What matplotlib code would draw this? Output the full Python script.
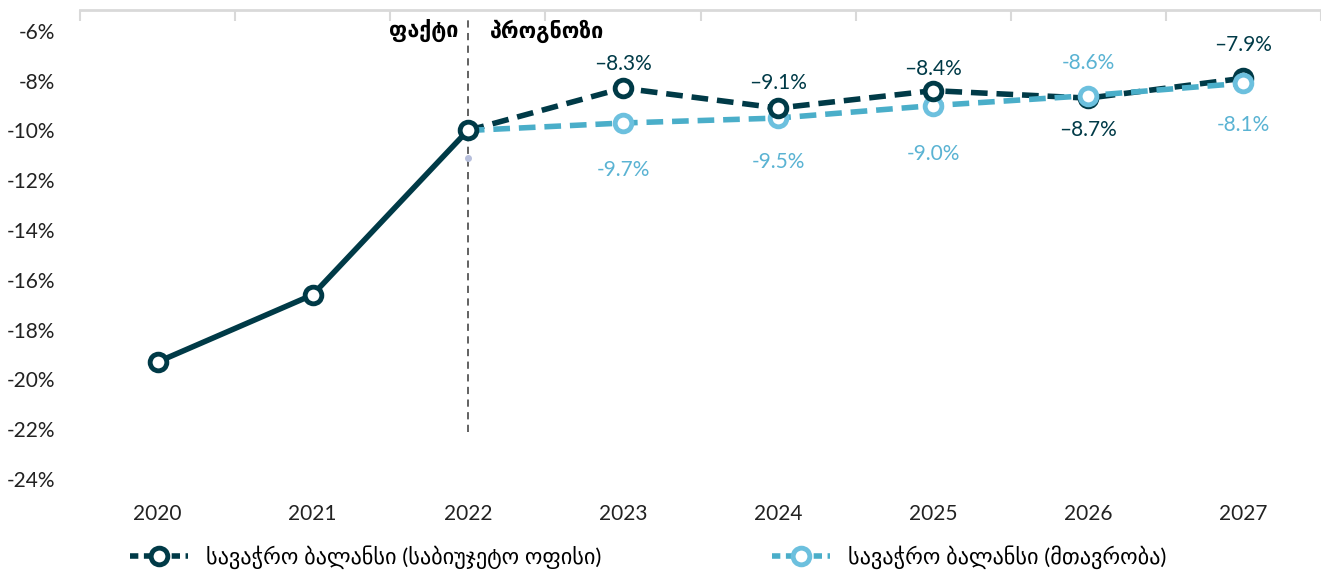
import numpy as np
import matplotlib.pyplot as plt

plt.rcParams['font.family'] = ['Lato', 'DejaVu Sans']

years = ['2020', '2021', '2022', '2023', '2024', '2025', '2026', '2027']
# budget office: fact 2020-2022, forecast 2022-2027
office = [-19.3, -16.6, -10.0, -8.3, -9.1, -8.4, -8.7, -7.9]
# government forecast from 2022
govt = [None, None, -10.0, -9.7, -9.5, -9.0, -8.6, -8.1]
stray_point = -11.1  # small marker at 2022
y_ticks = [-6, -8, -10, -12, -14, -16, -18, -20, -22, -24]

dark = '#003a47'
light_line = '#4aaec9'
light_mark = '#6cc0de'
light_text = '#5ab3d3'

x = np.arange(len(years))
fig = plt.figure(figsize=(13.21, 5.72), dpi=100)
ax = fig.add_axes([80 / 1321, 1 - 479 / 572, 1241 / 1321, 469 / 572])

# vertical separator fact / forecast
ax.plot([2, 2], [-22.1, -5.4], color='#555555', lw=1.3, ls=(0, (4, 3)), zorder=1)

gx = x[2:]
gy = govt[2:]
ax.plot(gx, gy, color=light_line, lw=4, ls=(0, (3, 1.6)), solid_capstyle='butt', zorder=3)
ax.plot(x[:3], office[:3], color=dark, lw=4, zorder=4)
ax.plot(x[2:], office[2:], color=dark, lw=4, ls=(0, (3, 1.6)), zorder=2)

ax.plot(x[:6], office[:6], ls='none', marker='o', ms=12, mfc='white', mec=dark, mew=3.5, zorder=5)
ax.plot(x[6:], office[6:], ls='none', marker='o', ms=12, mfc='white', mec=dark, mew=3.5, zorder=2.5)
ax.plot(gx[1:], gy[1:], ls='none', marker='o', ms=12, mfc='white', mec=light_mark, mew=3.5, zorder=4.5)
ax.plot([2], [stray_point], ls='none', marker='o', ms=4, color='#b7bfdc', zorder=2)

# value labels
lab = dict(ha='center', va='center', fontsize=15, textcoords='offset pixels')
above_dark = {3: 24, 4: 25, 5: 22, 7: 33}
for i, dy in above_dark.items():
    ax.annotate(f'–{abs(office[i]):.1f}%', (x[i], office[i]), xytext=(0, dy), color=dark, **lab)
ax.annotate(f'–{abs(office[6]):.1f}%', (x[6], office[6]), xytext=(0, -32), color=dark, **lab)
below_light = {3: -47, 4: -44, 5: -48, 7: -42}
for i, dy in below_light.items():
    ax.annotate(f'-{abs(govt[i]):.1f}%', (x[i], govt[i]), xytext=(0, dy), color=light_text, **lab)
ax.annotate(f'-{abs(govt[6]):.1f}%', (x[6], govt[6]), xytext=(0, 33), color=light_text, **lab)

ax.text(1.94, -6.0, 'ფაქტი', ha='right', va='center', fontsize=15.5, fontweight='bold', color='black')
ax.text(2.14, -6.0, 'პროგნოზი', ha='left', va='center', fontsize=15.5, fontweight='bold', color='black')

ax.set_xlim(-0.5, 7.5)
ax.set_ylim(-24, -5.16)
ax.set_yticks(y_ticks)
ax.set_yticklabels([f'-{abs(v)}%' for v in y_ticks])
ax.set_xticks(x)
ax.set_xticklabels(years)
ax.tick_params(axis='both', length=0, labelsize=15, colors='#222222')
ax.tick_params(axis='x', pad=18)
ax.tick_params(axis='y', pad=18)

for s in ['left', 'right', 'bottom']:
    ax.spines[s].set_visible(False)
ax.spines['top'].set_color('#d9d9d9')
ax.spines['top'].set_linewidth(2)
ax.set_xticks(np.arange(-0.5, 8, 1), minor=True)
ax.tick_params(axis='x', which='minor', top=True, bottom=False, direction='in', length=8,
               width=1.5, color='#d9d9d9')

# legend
h1, = ax.plot([], [], color=dark, lw=4, ls=(0, (1.5, 1)), marker='o', ms=12, mfc='white', mec=dark, mew=3.5)
h2, = ax.plot([], [], color=light_line, lw=4, ls=(0, (1.5, 1)), marker='o', ms=12, mfc='white', mec=light_mark, mew=3.5)
fig.legend([h1], ['სავაჭრო ბალანსი (საბიუჯეტო ოფისი)'], loc='center left', bbox_to_anchor=(110 / 1321, 1 - 557 / 572),
           frameon=False, fontsize=16, handlelength=2.6, handletextpad=0.8)
fig.legend([h2], ['სავაჭრო ბალანსი (მთავრობა)'], loc='center left', bbox_to_anchor=(752 / 1321, 1 - 557 / 572),
           frameon=False, fontsize=16, handlelength=2.6, handletextpad=0.8)

fig.savefig('out.png', dpi=100)
